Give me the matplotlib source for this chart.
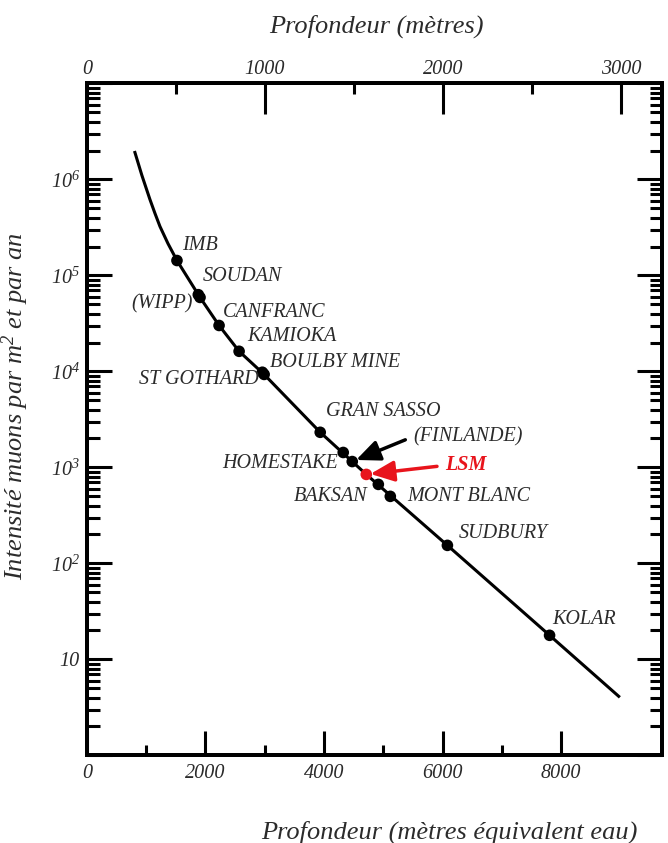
import numpy as np
import matplotlib
matplotlib.use('Agg')
import matplotlib.pyplot as plt
from matplotlib.ticker import FixedLocator, LogLocator, NullFormatter

plt.rcParams['font.family'] = ['Liberation Serif', 'DejaVu Serif']
plt.rcParams['font.style'] = 'italic'
plt.rcParams['mathtext.fontset'] = 'custom'
plt.rcParams['mathtext.rm'] = 'Liberation Serif:italic'
plt.rcParams['mathtext.it'] = 'Liberation Serif:italic'

# ---------------------------------------------------------------- data
# muon intensity curve (per m2 per year) vs depth in metres water equivalent
curve_mwe = [811, 929, 1064, 1149, 1233, 1368, 1520, 1909, 2230, 2568, 2990, 3936,
             4713, 6081, 7804, 8970]
curve_int = [1.91e6, 1.10e6, 6.19e5, 4.43e5, 3.24e5, 2.15e5, 1.43e5, 5.9e4, 3.01e4,
             1.62e4, 9.3e3, 2.32e3, 845, 154, 17.8, 4.12]

# underground laboratories
sites = ['IMB', 'SOUDAN', '(WIPP)', 'CANFRANC', 'KAMIOKA', 'BOULBY MINE', 'ST GOTHARD',
         'GRAN SASSO', 'HOMESTAKE', '(FINLANDE)', 'LSM', 'BAKSAN', 'MONT BLANC',
         'SUDBURY', 'KOLAR']
site_mwe = [1520, 1909, 1880, 2230, 2568, 2990, 2960, 3936, 4324, 4476, 4713, 4916, 5118, 6081, 7804]
site_int = [1.43e5, 5.9e4, 6.3e4, 3.01e4, 1.62e4, 9.3e3, 9.8e3, 2.32e3, 1.43e3, 1.15e3,
            845, 665, 499, 154, 17.8]

bottom_major = [0, 2000, 4000, 6000, 8000]
bottom_minor = [1000, 3000, 5000, 7000]
top_major = [0, 1000, 2000, 3000]
top_minor = [500, 1500, 2500]
y_major = [1, 10, 1e2, 1e3, 1e4, 1e5, 1e6, 1e7]
y_labels = ['', '10', '$10^2$', '$10^3$', '$10^4$', '$10^5$', '$10^6$', '']

# ---------------------------------------------------------------- figure
txt = '#2b2b2b'
red = '#e8141c'
fig = plt.figure(figsize=(6.68, 8.43), dpi=100)
ax = fig.add_axes([0.130, 0.104, 0.861, 0.797])

ax.plot(curve_mwe, curve_int, color='black', lw=2.2, zorder=2)

# label placement (pixel offsets from the dot, up = positive) and alignment
place = {
    'IMB': (5, 15, 'left'), 'SOUDAN': (3, 21, 'left'), '(WIPP)': (-6, -9, 'right'),
    'CANFRANC': (4, 13, 'left'), 'KAMIOKA': (8, 15, 'left'), 'BOULBY MINE': (6, 12, 'left'),
    'ST GOTHARD': (-4, -7, 'right'), 'GRAN SASSO': (6, 21, 'left'),
    'HOMESTAKE': (-5, -11, 'right'), '(FINLANDE)': (61, 25, 'left'), 'LSM': (79, 9, 'left'),
    'BAKSAN': (-11, -12, 'right'), 'MONT BLANC': (17, 0, 'left'),
    'SUDBURY': (11, 12, 'left'), 'KOLAR': (3, 16, 'left'),
}

for name, x, y in zip(sites, site_mwe, site_int):
    col = red if name == 'LSM' else 'black'
    ax.scatter([x], [y], s=70, color=col, zorder=3, edgecolors='none')
    dx, dy, ha = place[name]
    tcol = red if name == 'LSM' else txt
    if name in ('(FINLANDE)', 'LSM'):
        ax.annotate(name, xy=(x, y), xytext=(dx, dy), textcoords='offset pixels',
                    ha=ha, va='center', fontsize=14.5, color=tcol,
                    fontweight='bold' if name == 'LSM' else 'normal',
                    arrowprops=dict(arrowstyle='-|>,head_length=0.8,head_width=0.35',
                                    color=col, lw=2.5, mutation_scale=18,
                                    relpos=(0, 0.5), shrinkA=4, shrinkB=3))
    else:
        ax.annotate(name, xy=(x, y), xytext=(dx, dy), textcoords='offset pixels',
                    ha=ha, va='center', fontsize=14.5, color=tcol)

ax.set_yscale('log')
ax.set_xlim(0, 9700)
ax.set_ylim(1, 1e7)

ax.xaxis.set_major_locator(FixedLocator(bottom_major))
ax.xaxis.set_minor_locator(FixedLocator(bottom_minor))
ax.set_xticklabels([str(v) for v in bottom_major])
ax.yaxis.set_major_locator(FixedLocator(y_major))
ax.set_yticklabels(y_labels)
ax.yaxis.set_minor_locator(LogLocator(base=10, subs=np.arange(2, 10), numticks=20))
ax.yaxis.set_minor_formatter(NullFormatter())

ax.tick_params(axis='x', which='major', direction='in', length=17, width=2.2,
               top=False, labelsize=14.5, labelcolor=txt, pad=6)
ax.tick_params(axis='x', which='minor', direction='in', length=7, width=2.2, top=False)
ax.tick_params(axis='y', which='major', direction='in', length=18, width=2.2,
               left=True, right=True, labelsize=14.5, labelcolor=txt, pad=5)
ax.tick_params(axis='y', which='minor', direction='in', length=9, width=2.2,
               left=True, right=True)

for s in ax.spines.values():
    s.set_linewidth(2.8)

ax.set_xlabel('Profondeur (mètres équivalent eau)', fontsize=19, color=txt)
ax.xaxis.set_label_coords(0.63, -0.097)
ax.set_ylabel('Intensité muons par m$^{2}$ et par an', fontsize=19, color=txt)
ax.yaxis.set_label_coords(-0.097, 0.52)

# top axis in metres of rock
ax2 = ax.twiny()
ax2.set_xlim(0, 3230)
ax2.xaxis.set_major_locator(FixedLocator(top_major))
ax2.xaxis.set_minor_locator(FixedLocator(top_minor))
ax2.set_xticklabels([str(v) for v in top_major])
ax2.tick_params(axis='x', which='major', direction='in', length=22, width=2.2,
                labelsize=14.5, labelcolor=txt, pad=3)
ax2.tick_params(axis='x', which='minor', direction='in', length=8, width=2.2)
for s in ax2.spines.values():
    s.set_linewidth(2.8)
ax2.set_xlabel('Profondeur (mètres)', fontsize=19, color=txt)
ax2.xaxis.set_label_coords(0.503, 1.076)

fig.savefig('out.png', dpi=100)
